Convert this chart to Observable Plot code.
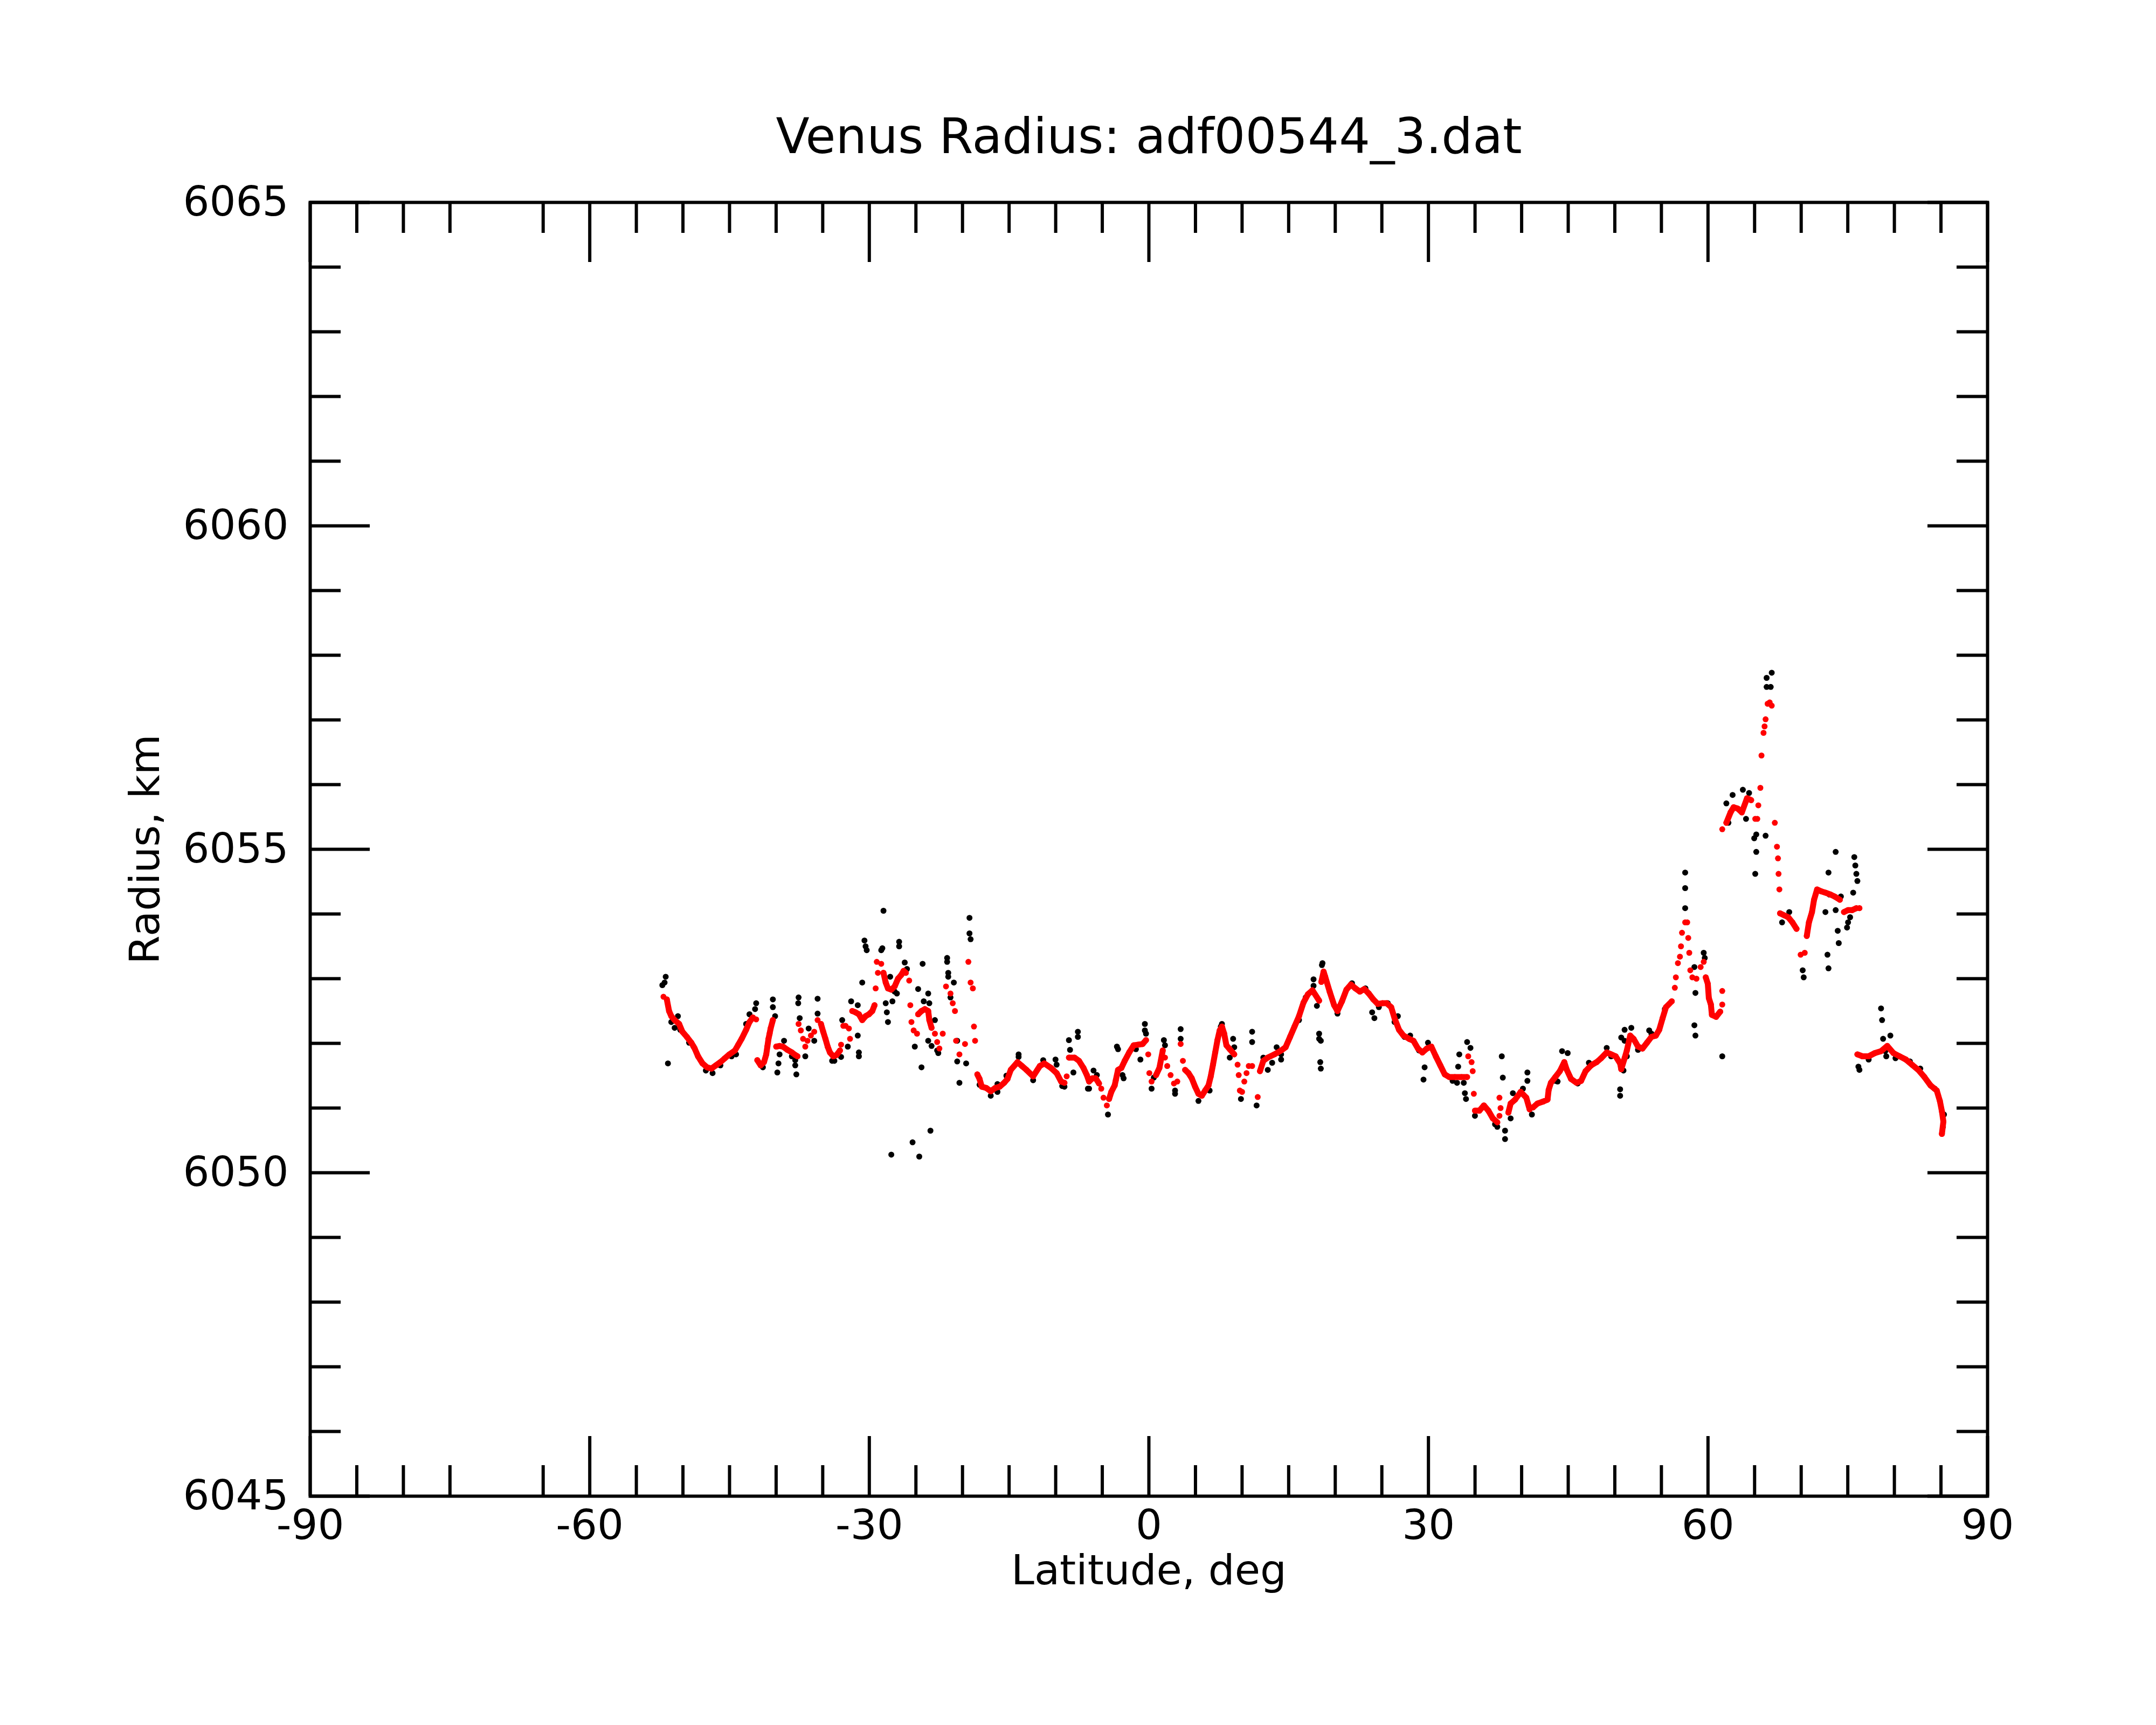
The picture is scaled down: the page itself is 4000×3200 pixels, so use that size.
<!DOCTYPE html>
<html>
<head>
<meta charset="utf-8">
<script src="https://cdn.jsdelivr.net/npm/d3@7"></script>
<script src="https://cdn.jsdelivr.net/npm/@observablehq/plot@0.6"></script>
<style>
  html, body { margin: 0; padding: 0; background: #ffffff; }
  #chart svg { display: block; }
</style>
</head>
<body>
<div id="chart"></div>
<script>
// ---- texts ----
const titleText = "Venus Radius: adf00544_3.dat";
const xLabelText = "Latitude, deg";
const yLabelText = "Radius, km";

// ---- ticks ----
const xMajorTicks = [-90, -60, -30, 0, 30, 60, 90];
const xMinorTicks = [-85, -80, -75, -65, -55, -50, -45, -40, -35, -25, -20, -15, -10, -5, 5, 10, 15, 20, 25, 35, 40, 45, 50, 55, 65, 70, 75, 80, 85];
const yMajorTicks = [6045, 6050, 6055, 6060, 6065];
const yMinorTicks = [6046, 6047, 6048, 6049, 6051, 6052, 6053, 6054, 6056, 6057, 6058, 6059, 6061, 6062, 6063, 6064];

// ---- raw radius samples (black) ----
const blackLat = [
  -51.85,-51.97,-52.21,-51.61,-50.89,-50.54,-46.82,-49.34,-47.54,-44.78,-43.22,-42.86,-42.14,-42.26,-40.35,-40.35,-40.11,-39.87,-39.75,-39.63,
  -39.15,-37.83,-37.95,-37.95,-37.59,-37.63,-37.47,-36.51,-36.87,-35.91,-35.55,-35.55,-33.99,-33.03,-32.91,-31.95,-31.24,-32.31,-31.12,-31.12,
  -31.24,-30.52,-30.40,-30.28,-30.76,-28.72,-28.60,-28.48,-26.80,-26.80,-26.20,-25.96,-27.52,-28.24,-28.12,-28.00,-27.04,-27.76,-24.28,-24.76,
  -23.68,-24.16,-23.56,-22.96,-23.68,-23.32,-25.12,-24.40,-22.60,-27.64,-25.36,-24.64,-23.44,-21.65,-21.65,-21.53,-21.53,-20.93,-21.29,-19.25,
  -19.25,-19.13,-20.57,-20.57,-19.61,-20.33,-16.97,
  -51.25,-50.29,-48.86,-45.98,-44.30,-41.42,-38.31,-33.75,-27.28,-22.72,-18.17,-16.25,
  -13.98,-13.98,-11.34,-10.02,-9.90,-8.58,-8.46,-7.62,-7.62,-8.10,-6.54,-9.06,-5.94,-5.58,-4.39,-3.43,-3.31,-2.71,-2.83,-0.43,-0.43,-0.31,-0.91,
  1.61,1.73,0.29,0.53,2.81,2.81,3.41,3.41,5.32,6.52,7.84,9.04,9.16,8.68,9.88,11.08,11.08,11.56,12.28,13.23,12.76,13.71,14.19,17.67,17.67,18.63,
  18.03,18.27,18.27,18.39,20.19,
  -16.25,-15.29,-12.42,-9.30,-6.42,-1.39,7.72,14.19,16.11,16.83,
  18.57,18.45,18.45,23.96,24.20,26.72,29.59,29.47,33.31,33.19,33.79,33.91,34.03,34.15,34.51,34.99,37.87,37.98,37.39,38.22,38.22,39.06,40.14,
  40.62,40.62,41.10,44.34,44.94,43.86,49.13,51.05,51.77,50.69,51.05,50.93,50.57,50.57,51.29,53.69,
  20.24,21.80,23.24,24.68,25.64,26.36,27.44,28.04,28.99,29.95,32.59,33.07,37.15,38.82,43.62,46.02,47.22,49.61,52.49,53.93,55.37,
  57.55,57.55,57.55,58.54,58.65,58.54,58.65,59.54,59.65,61.53,61.97,62.64,63.74,64.41,62.19,64.08,64.96,65.18,66.18,65.18,65.07,66.29,66.84,
  66.73,66.29,67.95,68.72,70.16,70.27,72.60,72.93,73.04,72.82,72.93,73.70,73.70,73.92,74.03,74.26,74.92,75.03,75.25,75.70,75.81,75.92,76.03,
  75.58,76.25,78.57,78.68,78.79,79.57,79.13,
  76.14,77.24,79.02,80.12,81.67,82.78,84.33,85.32,85.21
];
const blackRadius = [
  6053.03,6052.94,6052.90,6051.69,6052.24,6052.42,6051.54,6052.01,6051.58,6051.80,6052.30,6052.45,6052.62,6052.53,6052.68,6052.56,6052.42,6051.55,6051.69,6051.83,
  6052.04,6051.52,6051.66,6051.74,6052.71,6052.62,6052.39,6052.23,6051.80,6052.04,6052.69,6052.46,6051.73,6051.79,6052.36,6052.65,6052.59,6051.95,6051.86,6051.80,
  6052.12,6053.59,6053.50,6053.44,6052.94,6053.44,6053.47,6054.05,6053.57,6053.50,6053.25,6053.15,6052.65,6052.62,6052.48,6052.33,6052.77,6053.03,6053.23,6052.84,
  6052.77,6052.65,6052.62,6052.36,6052.04,6051.96,6051.95,6051.63,6051.85,6050.28,6050.47,6050.25,6050.65,6053.32,6053.26,6053.09,6053.03,6052.94,6052.71,6053.94,
  6053.70,6053.61,6052.04,6051.72,6051.69,6051.39,6051.19,
  6052.33,6052.21,6051.95,6051.66,6051.83,6051.63,6051.80,6051.73,6052.80,6051.89,6051.36,6051.25,
  6051.83,6051.79,6051.74,6051.75,6051.67,6052.05,6051.90,6052.18,6052.10,6051.55,6051.30,6051.33,6051.58,6051.51,6050.90,6051.95,6051.91,6051.46,6051.51,6052.30,6052.20,6052.15,6051.75,
  6052.05,6051.97,6051.30,6051.47,6051.22,6051.27,6052.22,6052.07,6051.11,6051.27,6052.30,6052.07,6051.94,6051.78,6051.14,6052.18,6052.02,6051.04,6051.78,6051.70,6051.59,6051.94,6051.75,6052.99,6052.89,6053.24,
  6052.58,6052.15,6052.07,6051.71,6052.51,
  6051.37,6051.50,6051.43,6051.34,6051.30,6051.91,6052.26,6051.83,6052.36,6052.71,
  6053.21,6052.04,6051.61,6052.48,6052.39,6052.42,6051.63,6051.44,6051.83,6051.64,6051.39,6051.23,6051.14,6052.02,6051.93,6050.88,6051.80,6051.47,6050.71,6050.65,6050.52,6051.23,6051.30,
  6051.55,6051.42,6050.90,6051.88,6051.85,6051.41,6051.93,6052.21,6052.24,6052.09,6052.04,6051.58,6051.29,6051.19,6051.80,6052.20,
  6052.46,6052.93,6052.85,6052.56,6052.62,6052.33,6052.10,6052.12,6051.89,6052.01,6051.42,6051.39,6050.75,6050.84,6051.42,6051.38,6051.70,6051.80,6051.90,6052.15,6052.53,
  6054.64,6054.40,6054.09,6053.18,6052.78,6052.28,6052.12,6053.40,6053.32,6051.80,6055.71,6055.84,6055.92,6055.87,6055.41,6055.47,6055.17,6055.23,6055.21,6054.96,6054.62,6057.65,6057.73,
  6057.51,6057.51,6053.87,6054.03,6053.13,6053.02,6054.03,6054.64,6054.30,6053.37,6053.16,6054.96,6054.06,6053.74,6053.55,6054.27,6053.79,6053.87,6053.95,6054.88,6054.75,6054.62,6054.51,
  6054.33,6051.59,6052.54,6052.36,6052.07,6052.12,6051.80,
  6051.64,6051.75,6051.88,6051.77,6051.72,6051.61,6051.30,6050.90,6050.71
];

// ---- filtered radius samples (red) ----
const redLat = [
  -52.09,-51.73,-51.49,-51.25,-50.89,-50.41,-50.06,-49.58,-49.10,-48.74,-48.38,-47.90,-47.42,-46.94,-46.46,-45.98,-45.50,-45.02,-44.42,-44.06,
  -43.70,-43.22,-42.86,-42.50,-42.14,-42.02,-41.66,-41.30,-41.06,-40.94,-40.82,-40.70,-40.59,-40.35,-39.99,-39.63,-39.27,-38.79,-38.31,-37.95,
  -37.71,-37.59,-37.35,-37.11,-36.87,-36.63,-36.27,-35.91,-35.55,-35.19,-34.95,-34.71,-34.47,-34.23,-33.87,-33.51,-33.15,-33.03,-32.79,-32.55,
  -32.19,-32.07,-31.83,-31.48,-31.12,-30.76,-30.40,-30.04,-29.68,-29.44,-29.20,-28.72,-29.08,-29.32,-28.48,-28.24,-28.00,-27.64,-27.28,-26.92,
  -26.56,-26.32,-26.08,-25.72,-25.60,-25.48,-25.24,-24.88,-24.76,-24.40,-24.04,-23.68,-23.56,-23.32,-22.96,-22.72,-22.48,-22.12,-21.77,-21.29,
  -21.05,-20.81,-20.69,-20.33,-19.73,-19.37,-19.13,-18.89,-18.77,-18.65,-18.41,-18.17,-17.93,-17.45,-16.97,-16.49,-16.01,-15.53,-15.17,
  -14.82,-14.10,-13.62,-13.14,-12.42,-11.70,-11.22,-10.50,-9.90,-9.42,-9.06,-8.82,-8.58,-7.98,-7.50,-7.02,-6.66,-6.42,-6.06,-5.71,
  -5.35,-5.11,-4.87,-4.51,-4.27,-4.03,-3.67,-3.55,-3.31,-2.95,-2.59,-2.11,-1.63,-1.15,-0.67,-0.31,-0.07,0.05,0.29,0.77,
  1.13,1.49,1.73,1.97,2.33,2.69,3.05,3.41,3.65,3.89,4.25,4.60,4.96,5.32,5.68,6.04,6.40,6.64,6.88,7.12,
  7.36,7.60,7.84,8.08,8.32,8.68,9.16,9.52,9.64,9.76,10.00,10.24,10.48,10.72,11.08,11.68,11.92,12.28,12.76,13.47,
  14.19,14.67,15.15,15.63,16.11,16.59,17.07,17.55,18.27,18.51,18.75,18.92,19.40,19.88,20.24,20.72,21.20,21.68,22.16,22.64,
  23.12,23.60,24.08,24.56,25.04,25.52,26.00,26.36,26.84,27.32,27.92,28.39,28.87,29.35,29.83,30.31,30.79,31.27,31.75,32.23,
  32.83,33.55,34.15,34.27,34.63,34.75,34.87,34.99,35.47,35.95,36.43,36.91,37.39,37.62,37.74,37.62,38.58,38.82,39.30,39.90,
  40.50,40.86,41.22,41.70,42.30,42.78,42.90,43.14,43.62,44.10,44.58,44.82,45.30,45.90,46.38,46.86,47.46,48.05,48.53,49.13,
  49.61,50.09,50.57,50.69,51.05,51.29,51.65,52.01,52.49,52.97,53.45,53.93,54.41,54.77,55.13,55.49,56.11,56.44,56.55,56.77,
  56.99,57.10,57.21,57.55,57.77,57.88,57.99,58.10,58.32,58.76,59.21,59.54,59.76,59.98,60.09,60.31,60.42,60.87,61.31,61.53,
  61.53,61.53,61.97,62.42,62.75,63.19,63.63,64.19,64.63,65.07,65.29,65.40,65.62,65.74,65.96,66.07,66.18,66.40,66.62,66.84,
  67.17,67.40,67.51,67.57,67.66,67.73,68.17,68.61,69.06,69.50,69.94,70.38,70.60,70.83,71.16,71.38,71.71,72.15,72.60,73.15,
  73.59,74.15,74.59,75.03,75.47,75.92,76.25,76.03,76.58,77.24,77.91,78.57,79.24,79.90,80.56,81.23,81.89,82.56,83.22,83.88,
  84.55,84.88,85.10,85.26,85.10
];
const redRadius = [
  6052.72,6052.68,6052.50,6052.42,6052.36,6052.30,6052.18,6052.10,6052.01,6051.92,6051.80,6051.69,6051.63,6051.61,6051.66,6051.71,6051.77,6051.83,6051.89,6051.98,
  6052.07,6052.21,6052.33,6052.40,6052.37,6051.74,6051.66,6051.71,6051.83,6051.95,6052.07,6052.15,6052.23,6052.36,6051.95,6051.96,6051.95,6051.90,6051.86,6051.82,
  6051.80,6052.30,6052.20,6052.07,6051.95,6052.04,6052.12,6052.18,6052.36,6052.30,6052.18,6052.07,6051.95,6051.86,6051.80,6051.82,6051.89,6051.98,6052.27,6052.27,
  6052.23,6052.07,6052.50,6052.48,6052.45,6052.36,6052.42,6052.45,6052.50,6052.59,6053.26,6053.23,6053.09,6052.85,6053.09,6052.94,6052.85,6052.83,6052.88,6053.00,
  6053.06,6053.12,6053.09,6052.97,6052.59,6052.33,6052.20,6052.15,6052.45,6052.50,6052.53,6052.50,6052.36,6052.24,6052.15,6052.02,6051.92,6052.15,6052.88,6052.77,
  6052.62,6052.50,6052.04,6051.83,6051.99,6053.26,6052.94,6052.85,6052.26,6052.04,6051.52,6051.45,6051.33,6051.31,6051.26,6051.31,6051.33,6051.39,6051.45,
  6051.59,6051.71,6051.65,6051.59,6051.49,6051.65,6051.69,6051.62,6051.54,6051.41,6051.39,6051.49,6051.78,6051.78,6051.73,6051.62,6051.51,6051.41,6051.46,6051.46,
  6051.38,6051.30,6051.16,6051.04,6051.14,6051.25,6051.35,6051.43,6051.59,6051.62,6051.73,6051.86,6051.97,6051.98,6051.99,6052.05,6051.83,6051.54,6051.41,6051.51,
  6051.62,6051.89,6051.78,6051.65,6051.51,6051.38,6051.41,6051.99,6051.73,6051.59,6051.54,6051.46,6051.33,6051.22,6051.19,6051.27,6051.35,6051.49,6051.67,6051.86,
  6052.05,6052.20,6052.26,6052.15,6051.97,6051.91,6051.83,6051.67,6051.51,6051.27,6051.25,6051.41,6051.54,6051.65,6051.65,6051.17,6051.57,6051.73,6051.78,6051.83,
  6051.89,6051.94,6052.10,6052.26,6052.42,6052.63,6052.76,6052.82,6052.66,6052.95,6053.11,6053.03,6052.80,6052.59,6052.50,6052.65,6052.83,6052.91,6052.85,6052.80,
  6052.84,6052.77,6052.68,6052.61,6052.62,6052.62,6052.56,6052.39,6052.21,6052.12,6052.07,6052.04,6051.92,6051.86,6051.92,6051.95,6051.80,6051.66,6051.52,6051.48,
  6051.48,6051.48,6051.48,6051.80,6051.71,6051.57,6051.22,6050.96,6050.96,6051.04,6050.96,6050.84,6050.78,6051.16,6051.00,6050.88,6050.93,6051.07,6051.13,6051.25,
  6051.16,6050.98,6051.01,6051.07,6051.10,6051.13,6051.28,6051.39,6051.48,6051.57,6051.71,6051.60,6051.45,6051.39,6051.42,6051.57,6051.66,6051.71,6051.77,6051.86,
  6051.83,6051.80,6051.69,6051.60,6051.77,6051.89,6052.12,6052.07,6051.95,6051.92,6052.01,6052.10,6052.12,6052.21,6052.39,6052.56,6052.65,6052.86,6053.02,6053.24,
  6053.34,6053.50,6053.71,6053.87,6053.87,6053.63,6053.40,6053.13,6053.02,6053.00,6053.18,6053.26,6053.02,6052.92,6052.70,6052.60,6052.44,6052.41,6052.49,6052.81,
  6052.60,6055.31,6055.41,6055.57,6055.65,6055.63,6055.57,6055.79,6055.76,6055.47,6055.47,6055.68,6055.95,6056.45,6056.80,6056.90,6057.01,6057.25,6057.27,6057.22,
  6055.41,6055.04,6054.86,6054.62,6054.38,6054.01,6053.98,6053.95,6053.87,6053.77,6053.37,6053.40,6053.66,6053.87,6054.03,6054.22,6054.38,6054.35,6054.33,6054.30,
  6054.27,6054.22,6054.03,6054.06,6054.06,6054.09,6054.09,6051.83,6051.80,6051.80,6051.85,6051.88,6051.96,6051.85,6051.80,6051.75,6051.67,6051.59,6051.48,6051.35,
  6051.27,6051.11,6050.95,6050.79,6050.60
];

// latitude stretches where the filtered samples are dense enough to read as a solid band
const redDenseRuns = [
  [-51.8, -42.4], [-42.1, -40.3], [-40.0, -37.7], [-35.2, -33.1], [-31.9, -29.4], [-28.5, -26.0],
  [-24.8, -23.3], [-18.45, -9.0], [-8.6, -5.3], [-4.3, -0.3], [0.3, 1.5], [3.85, 9.2], [11.9, 18.3],
  [18.5, 34.2], [34.9, 37.4], [38.55, 40.9], [41.2, 56.15], [59.7, 61.35], [61.9, 64.7], [67.7, 69.6],
  [70.5, 74.2], [74.5, 76.0], [76.02, 85.3]
];

// ---- layout ----
const W = 4000, H = 3200;
const mL = 575, mR = 313, mT = 375, mB = 425;
const frameW = W - mL - mR, frameH = H - mT - mB;
const majorLen = 111, minorLen = 57, lw = 6;
const font = "DejaVu Sans";

const blackIdx = d3.range(blackLat.length);
const redIdx = d3.range(redLat.length);

// group consecutive red samples into solid stretches (sample order follows the trace)
const runOf = lat => redDenseRuns.findIndex(([a, b]) => lat >= a && lat <= b);
const redSeg = [];
let seg = 0;
redIdx.forEach(i => {
  const run = runOf(redLat[i]);
  if (i > 0) {
    const j = i - 1;
    const prevRun = runOf(redLat[j]);
    if (run !== prevRun || Math.abs(redLat[i] - redLat[j]) > 0.8 || Math.abs(redRadius[i] - redRadius[j]) > 0.3) seg++;
  }
  redSeg.push(run < 0 ? -1 : seg);
});
const redLineIdx = redIdx.filter(i => redSeg[i] >= 0);

const chart = Plot.plot({
  width: W,
  height: H,
  marginLeft: mL,
  marginRight: mR,
  marginTop: mT,
  marginBottom: mB,
  style: {fontFamily: font, background: "#ffffff", color: "#000000", overflow: "visible"},
  x: {domain: [-90, 90]},
  y: {domain: [6045, 6065]},
  marks: [
    // data
    Plot.dot(blackIdx, {x: i => blackLat[i], y: i => blackRadius[i], r: 5.5, fill: "#000000"}),
    Plot.line(redLineIdx, {x: i => redLat[i], y: i => redRadius[i], z: i => redSeg[i],
                           stroke: "#ff0000", strokeWidth: 11, strokeLinecap: "round", strokeLinejoin: "round"}),
    Plot.dot(redIdx, {x: i => redLat[i], y: i => redRadius[i], r: 5.5, fill: "#ff0000"}),
    // inward ticks, bottom & top
    Plot.ruleX(xMajorTicks, {insetTop: frameH - majorLen, stroke: "#000", strokeWidth: lw}),
    Plot.ruleX(xMinorTicks, {insetTop: frameH - minorLen, stroke: "#000", strokeWidth: lw}),
    Plot.ruleX(xMajorTicks, {insetBottom: frameH - majorLen, stroke: "#000", strokeWidth: lw}),
    Plot.ruleX(xMinorTicks, {insetBottom: frameH - minorLen, stroke: "#000", strokeWidth: lw}),
    // inward ticks, left & right
    Plot.ruleY(yMajorTicks, {insetRight: frameW - majorLen, stroke: "#000", strokeWidth: lw}),
    Plot.ruleY(yMinorTicks, {insetRight: frameW - minorLen, stroke: "#000", strokeWidth: lw}),
    Plot.ruleY(yMajorTicks, {insetLeft: frameW - majorLen, stroke: "#000", strokeWidth: lw}),
    Plot.ruleY(yMinorTicks, {insetLeft: frameW - minorLen, stroke: "#000", strokeWidth: lw}),
    Plot.frame({stroke: "#000", strokeWidth: lw}),
    // tick labels
    Plot.axisX({ticks: xMajorTicks, anchor: "bottom", tickSize: 0, tickPadding: 25, fontSize: 77,
                tickFormat: d => String(d), label: null}),
    Plot.axisY({ticks: yMajorTicks, anchor: "left", tickSize: 0, tickPadding: 40, fontSize: 77,
                tickFormat: d => String(d), label: null}),
    // title and axis titles
    Plot.text([titleText], {frameAnchor: "top", lineAnchor: "bottom", dy: -92, fontSize: 91, fill: "#000"}),
    Plot.text([xLabelText], {frameAnchor: "bottom", lineAnchor: "bottom", dy: 163, fontSize: 77, fill: "#000"}),
    Plot.text([yLabelText], {frameAnchor: "left", textAnchor: "middle", lineAnchor: "middle", dx: -305, rotate: -90, fontSize: 77, fill: "#000"})
  ]
});

document.getElementById("chart").appendChild(chart);
</script>
</body>
</html>
